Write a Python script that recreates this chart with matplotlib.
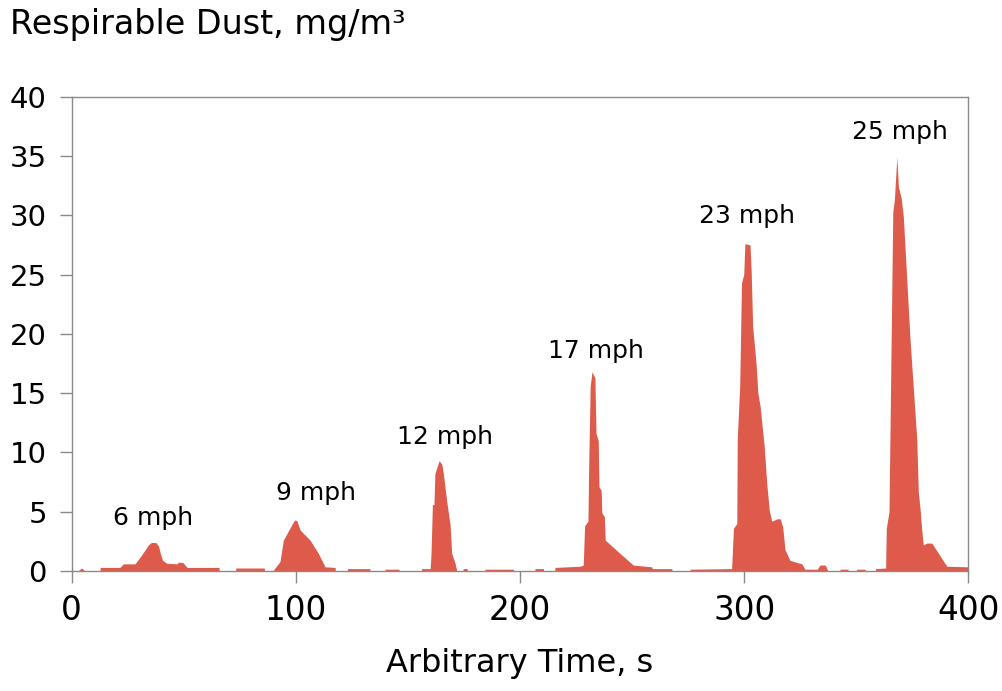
import numpy as np
import matplotlib
matplotlib.use("Agg")
import matplotlib.pyplot as plt

plt.rcParams['font.family'] = ['DejaVu Sans']

# Respirable dust concentration (mg/m^3) versus time (s), one block per wind-speed run
t_start = [0.0, 2.8, 4.3, 5.9, 12.5]
v_start = [0.0, 0.0, 0.25, 0.0, 0.0]

t_6mph = [12.6, 12.7, 21.5, 23.0, 28.2, 31.0, 34.2, 35.5, 37.5, 38.7, 39.5, 40.5,
          42.4, 46.8, 47.8, 49.6, 51.5, 65.7, 65.8, 73.1, 73.2, 85.9, 86.0]
v_6mph = [0.0, 0.3, 0.3, 0.6, 0.6, 1.3, 2.2, 2.4, 2.4, 2.1, 1.5, 0.9,
          0.65, 0.6, 0.75, 0.7, 0.3, 0.3, 0.0, 0.0, 0.25, 0.25, 0.0]

t_9mph = [89.7, 92.9, 94.4, 98.9, 99.6, 100.4, 101.9, 106.3, 110.0, 113.0, 117.5, 117.6,
          122.9, 123.0, 133.0, 133.1, 139.7, 139.8, 146.0, 146.1]
v_9mph = [0.0, 0.8, 2.6, 4.15, 4.3, 4.25, 3.45, 2.6, 1.5, 0.35, 0.3, 0.0,
          0.0, 0.2, 0.2, 0.0, 0.0, 0.15, 0.15, 0.0]

t_12mph = [156.0, 156.1, 159.9, 160.3, 160.9, 161.6, 162.0, 163.1, 163.9, 165.1, 165.8,
           167.3, 168.8, 169.5, 171.0, 171.8, 174.5, 174.6, 176.4, 176.5, 184.3, 184.4,
           197.0, 197.1, 206.6, 206.7, 210.4, 210.5]
v_12mph = [0.0, 0.2, 0.2, 1.5, 5.6, 5.6, 8.2, 8.85, 9.3, 9.0, 8.2,
           5.85, 3.9, 1.5, 0.65, 0.0, 0.0, 0.2, 0.2, 0.0, 0.0, 0.15,
           0.15, 0.0, 0.0, 0.2, 0.2, 0.0]

t_17mph = [215.5, 215.6, 226.8, 228.2, 228.8, 230.3, 230.6, 231.3, 232.1, 232.6, 233.4,
           233.9, 234.9, 235.2, 236.2, 236.5, 237.6, 238.0, 243.9, 250.5, 258.8, 259.0,
           267.7, 267.8, 275.7]
v_17mph = [0.0, 0.3, 0.4, 0.5, 3.8, 4.2, 8.6, 15.6, 16.8, 16.6, 16.3,
           11.6, 11.0, 7.1, 6.8, 4.9, 4.6, 2.6, 1.6, 0.5, 0.35, 0.2,
           0.2, 0.0, 0.0]

t_23mph = [275.8, 275.9, 294.4, 295.2, 296.7, 296.9, 298.0, 298.8, 299.8, 300.3, 302.6,
           303.1, 303.8, 305.3, 306.1, 307.1, 307.8, 308.9, 310.1, 311.2, 312.3, 314.7,
           316.1, 317.2, 318.2, 320.4, 325.7, 327.1, 332.6, 333.8, 336.1, 337.4]
v_23mph = [0.0, 0.15, 0.2, 3.6, 4.0, 11.1, 15.6, 24.3, 25.0, 27.6, 27.5,
           25.4, 20.6, 17.5, 15.0, 13.9, 12.6, 10.6, 7.3, 5.1, 4.2, 4.4,
           4.4, 3.7, 1.8, 0.9, 0.6, 0.15, 0.15, 0.5, 0.5, 0.0]

t_25mph = [342.7, 342.8, 346.3, 346.4, 350.1, 350.2, 353.9, 354.0, 358.5, 358.6, 363.1,
           363.4, 364.6, 366.3, 367.0, 368.1, 368.8, 370.0, 371.0, 374.0, 377.0, 377.7,
           378.4, 379.2, 379.9, 381.4, 383.7, 390.4, 400.0]
v_25mph = [0.0, 0.15, 0.15, 0.0, 0.0, 0.15, 0.15, 0.0, 0.0, 0.2, 0.25,
           3.6, 5.0, 30.3, 31.3, 34.9, 32.4, 31.5, 29.9, 19.5, 11.1, 6.6,
           5.4, 3.5, 2.2, 2.35, 2.35, 0.4, 0.35]

# Run annotations: text and anchor (time, concentration)
run_labels = ["6 mph", "9 mph", "12 mph", "17 mph", "23 mph", "25 mph"]
label_t = [36.3, 109.0, 166.6, 233.9, 301.3, 369.7]
label_v = [4.47, 6.6, 11.3, 18.55, 29.9, 37.0]

x_ticks = [0, 100, 200, 300, 400]
y_ticks = [0, 5, 10, 15, 20, 25, 30, 35, 40]

time_s = np.concatenate([t_start, t_6mph, t_9mph, t_12mph, t_17mph, t_23mph, t_25mph])
dust = np.concatenate([v_start, v_6mph, v_9mph, v_12mph, v_17mph, v_23mph, v_25mph])

FILL = '#DE5B4B'
GREY = '#8a8a8a'

fig = plt.figure(figsize=(10.02, 6.91), dpi=100)
ax = fig.add_axes([0.0716, 0.1737, 0.8948, 0.6864])

ax.fill_between(time_s, dust, 0, color=FILL, linewidth=0, zorder=1)

ax.set_xlim(0, 400)
ax.set_ylim(0, 40)
ax.set_xticks(x_ticks)
ax.set_yticks(y_ticks)
ax.tick_params(axis='both', direction='out', length=8.4, width=1.0, color=GREY)
ax.tick_params(axis='y', labelsize=21, pad=9.5)
ax.tick_params(axis='x', labelsize=23.5, pad=8.0)

for sp in ax.spines.values():
    sp.set_color(GREY)
    sp.set_linewidth(1.0)

for txt, tx, ty in zip(run_labels, label_t, label_v):
    ax.text(tx, ty, txt, fontsize=18, ha='center', va='center', color='black')

ax.set_xlabel('Arbitrary Time, s', fontsize=23)
ax.xaxis.set_label_coords(0.5, -0.196)
ax.xaxis.label.set_va('center')

fig.text(10 / 1002, 1 - 34 / 691, 'Respirable Dust, mg/m³', fontsize=24,
         ha='left', va='baseline', color='black')

fig.savefig('out.png', dpi=100, facecolor='white')
